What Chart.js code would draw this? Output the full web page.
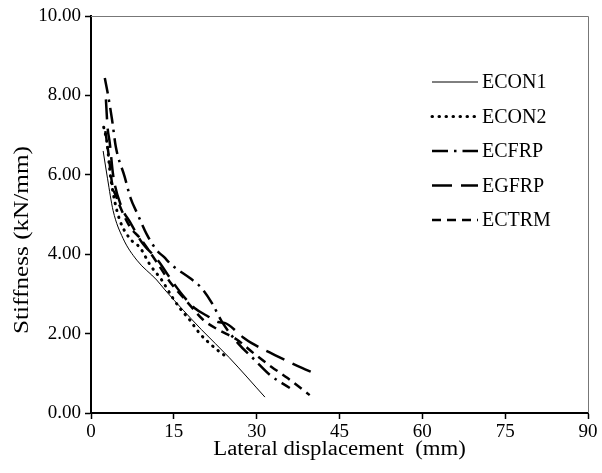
<!DOCTYPE html>
<html>
<head>
<meta charset="utf-8">
<script src="https://cdn.jsdelivr.net/npm/chart.js@4.4.0/dist/chart.umd.min.js"></script>
<style>
  body { margin: 0; background: #fff; }
  #wrap { width: 602px; height: 473px; }
</style>
</head>
<body>
<div id="wrap"><canvas id="myChart" width="602" height="473"></canvas></div>
<script>
// stiffness vs lateral displacement, one curve per specimen
var seriesNames = ['ECON1', 'ECON2', 'ECFRP', 'EGFRP', 'ECTRM'];

var econ1X = [2.2, 3.0, 4.0, 5.8, 8.3, 11.9, 13.4, 20.0, 25.0, 31.5];
var econ1Y = [6.6, 5.9, 5.1, 4.4, 3.85, 3.35, 3.1, 2.1, 1.4, 0.4];

var econ2X = [2.3, 2.9, 3.5, 4.2, 5.2, 7.0, 8.9, 10.7, 12.8, 14.8, 16.1, 17.9, 19.7, 21.2, 23.3, 24.6];
var econ2Y = [7.2, 6.8, 6.0, 5.4, 4.86, 4.4, 4.16, 3.73, 3.35, 2.9, 2.64, 2.34, 2.0, 1.79, 1.54, 1.41];

var ecfrpX = [2.5, 3.1, 3.8, 4.5, 6.1, 7.1, 8.5, 10.1, 11.9, 13.2, 14.6, 17.9, 20.0, 21.9, 23.7, 26.6, 29.7, 32.4, 36.0];
var ecfrpY = [8.44, 8.0, 7.4, 6.7, 5.95, 5.44, 4.99, 4.5, 4.1, 3.93, 3.73, 3.4, 3.15, 2.77, 2.3, 1.76, 1.33, 0.96, 0.63];

var egfrpX = [2.7, 3.0, 3.4, 4.0, 5.5, 7.1, 9.2, 12.1, 14.8, 17.0, 18.8, 21.0, 23.0, 24.2, 27.5, 29.1, 33.3, 38.3, 40.0];
var egfrpY = [7.9, 7.2, 6.8, 6.0, 5.2, 4.8, 4.3, 3.85, 3.3, 2.9, 2.64, 2.45, 2.29, 2.27, 1.91, 1.76, 1.46, 1.13, 1.03];

var ectrmX = [2.6, 3.2, 3.8, 4.7, 7.0, 8.9, 11.9, 14.3, 17.4, 20.3, 23.0, 26.4, 29.5, 32.7, 35.6, 39.6];
var ectrmY = [7.1, 6.5, 5.8, 5.4, 4.7, 4.4, 3.8, 3.3, 2.8, 2.35, 2.1, 1.85, 1.5, 1.16, 0.88, 0.45];

var xTicks = [0, 15, 30, 45, 60, 75, 90];
var yTicks = [0, 2, 4, 6, 8, 10];

function pts(xs, ys) {
  return xs.map(function (x, i) { return { x: x, y: ys[i] }; });
}

var serif = "'Liberation Serif', 'Times New Roman', serif";

// legend sits inside the plot, top right
var boxLegend = {
  id: 'boxLegend',
  afterDraw: function (chart) {
    var ctx = chart.ctx;
    var x0 = 432, x1 = 478, y = 82, step = 34.5;
    ctx.save();
    ctx.font = '20px ' + serif;
    ctx.textBaseline = 'middle';
    ctx.fillStyle = '#000';
    chart.data.datasets.forEach(function (ds, i) {
      var yy = y + i * step;
      ctx.beginPath();
      ctx.strokeStyle = '#000';
      ctx.lineWidth = ds.borderWidth;
      ctx.lineCap = ds.borderCapStyle || 'butt';
      ctx.setLineDash(ds.borderDash || []);
      ctx.moveTo(x0, yy);
      ctx.lineTo(x1, yy);
      ctx.stroke();
      ctx.fillText(ds.label, x1 + 4, yy + 1);
    });
    ctx.restore();
  }
};

// thin frame on top/right, stretched axis titles
var frameAndTitles = {
  id: 'frameAndTitles',
  afterDraw: function (chart) {
    var ctx = chart.ctx, a = chart.chartArea;
    ctx.save();
    ctx.strokeStyle = '#777';
    ctx.lineWidth = 1;
    ctx.beginPath();
    ctx.moveTo(a.left, a.top + 0.5);
    ctx.lineTo(a.right + 0.5, a.top + 0.5);
    ctx.lineTo(a.right + 0.5, a.bottom);
    ctx.stroke();

    ctx.fillStyle = '#000';
    ctx.textAlign = 'center';
    ctx.textBaseline = 'middle';
    ctx.font = '20px ' + serif;

    ctx.save();
    ctx.translate((a.left + a.right) / 2, 450);
    ctx.scale(1.14, 1);
    ctx.fillText('Lateral displacement  (mm)', 0, 0);
    ctx.restore();

    ctx.save();
    ctx.translate(22, 240);
    ctx.rotate(-Math.PI / 2);
    ctx.font = '21px ' + serif;
    ctx.scale(1.2, 1);
    ctx.fillText('Stiffness (kN/mm)', 0, 0);
    ctx.restore();

    ctx.restore();
  }
};

var ctx = document.getElementById('myChart');
var chart = new Chart(ctx, {
  type: 'line',
  data: {
    datasets: [
      { label: seriesNames[0], data: pts(econ1X, econ1Y), borderWidth: 1 },
      { label: seriesNames[1], data: pts(econ2X, econ2Y), borderWidth: 3, borderDash: [0.5, 6.5], borderCapStyle: 'round' },
      { label: seriesNames[2], data: pts(ecfrpX, ecfrpY), borderWidth: 2.5, borderDash: [16, 6, 2.5, 6] },
      { label: seriesNames[3], data: pts(egfrpX, egfrpY), borderWidth: 2.5, borderDash: [20, 9] },
      { label: seriesNames[4], data: pts(ectrmX, ectrmY), borderWidth: 2.5, borderDash: [9, 6] }
    ]
  },
  options: {
    responsive: false,
    animation: false,
    parsing: true,
    layout: { padding: { top: 16, right: 14, left: 0, bottom: 0 } },
    elements: {
      line: { borderColor: '#000', fill: false, cubicInterpolationMode: 'monotone' },
      point: { radius: 0, hoverRadius: 0 }
    },
    plugins: {
      legend: { display: false },
      tooltip: { enabled: false }
    },
    scales: {
      x: {
        type: 'linear',
        min: xTicks[0],
        max: xTicks[xTicks.length - 1],
        afterFit: function (s) { s.height = 60; },
        afterBuildTicks: function (s) { s.ticks = xTicks.map(function (v) { return { value: v }; }); },
        border: { color: '#000', width: 2 },
        grid: { drawOnChartArea: false, drawTicks: true, tickLength: 6, tickColor: '#000', tickWidth: 1.5 },
        ticks: { color: '#000', padding: 2, maxRotation: 0, font: { family: serif, size: 19 } }
      },
      y: {
        min: yTicks[0],
        max: yTicks[yTicks.length - 1],
        afterFit: function (s) { s.width = 91; },
        afterBuildTicks: function (s) { s.ticks = yTicks.map(function (v) { return { value: v }; }); },
        border: { color: '#000', width: 2 },
        grid: { drawOnChartArea: false, drawTicks: true, tickLength: 6, tickColor: '#000', tickWidth: 1.5 },
        ticks: {
          color: '#000', padding: 4, font: { family: serif, size: 19 },
          callback: function (v) { return Number(v).toFixed(2); }
        }
      }
    }
  },
  plugins: [boxLegend, frameAndTitles]
});
</script>
</body>
</html>
